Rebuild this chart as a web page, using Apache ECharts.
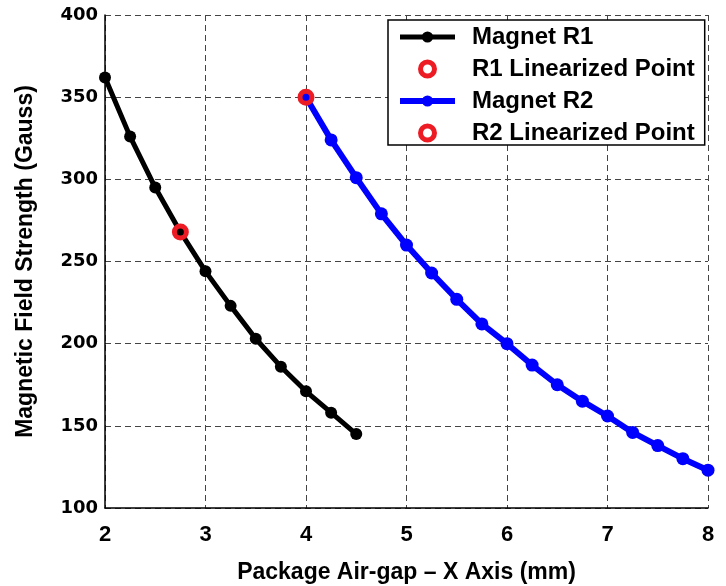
<!DOCTYPE html>
<html><head><meta charset="utf-8">
<script src="https://cdn.jsdelivr.net/npm/echarts@6/dist/echarts.min.js"></script>
<style>html,body{margin:0;padding:0;background:#fff}#c{width:726px;height:586px}</style>
</head><body><div id="c"></div>
<script>
const r1X = [2, 2.25, 2.5, 2.75, 3, 3.25, 3.5, 3.75, 4, 4.25, 4.5];
const r1Y = [362, 326, 295, 268, 244, 223, 203, 186, 171, 158, 145];
const r2X = [4, 4.25, 4.5, 4.75, 5, 5.25, 5.5, 5.75, 6, 6.25, 6.5, 6.75, 7, 7.25, 7.5, 7.75, 8];
const r2Y = [350, 324, 301, 279, 260, 243, 227, 212, 200, 187, 175, 165, 156, 146, 138, 130, 123];
const r1Lin = [2.75, 268];
const r2Lin = [4, 350];
const xTicks = [2, 3, 4, 5, 6, 7, 8];
const yTicks = [100, 150, 200, 250, 300, 350, 400];

const font = 'Liberation Sans, Arial, sans-serif';
const red = '#ed1c24';
const chart = echarts.init(document.getElementById('c'));
const pair = (xs, ys) => xs.map((x, i) => [x, ys[i]]);
const splitLine = {show: true, lineStyle: {color: '#444', type: [6, 4], width: 1}};
const nameStyle = {color: '#000', fontFamily: font, fontWeight: 'bold', fontSize: 23};
chart.setOption({
  animation: false,
  grid: {left: 105, right: 18, top: 15, bottom: 78, show: false, outerBoundsMode: 'none', containLabel: false},
  xAxis: {
    type: 'value', min: xTicks[0], max: xTicks[xTicks.length - 1], interval: 1,
    name: 'Package Air-gap – X Axis (mm)', nameLocation: 'middle', nameGap: 53,
    nameTextStyle: nameStyle,
    axisLine: {show: true, onZero: false, lineStyle: {color: '#000', width: 1.5}},
    axisTick: {show: false},
    splitLine: splitLine,
    axisLabel: {color: '#000', fontFamily: font, fontWeight: 'bold', fontSize: 22, margin: 16}
  },
  yAxis: {
    type: 'value', min: yTicks[0], max: yTicks[yTicks.length - 1], interval: 50,
    name: 'Magnetic Field Strength (Gauss)', nameLocation: 'middle', nameGap: 68,
    nameTextStyle: nameStyle,
    axisLine: {show: true, onZero: false, lineStyle: {color: '#000', width: 1.5}},
    axisTick: {show: false},
    splitLine: splitLine,
    axisLabel: {color: '#000', fontFamily: 'DejaVu Sans, sans-serif', fontWeight: 'bold', fontSize: 18, margin: 7}
  },
  legend: {
    orient: 'vertical', left: 388, top: 20,
    backgroundColor: '#fff', borderColor: '#000', borderWidth: 1.5,
    padding: [5, 10, 0, 9], itemGap: 8, itemWidth: 55, itemHeight: 14,
    lineStyle: {width: 'inherit'},
    textStyle: {color: '#000', fontFamily: font, fontWeight: 'bold', fontSize: 24, lineHeight: 23, padding: [0, 0, 0, 12]},
    data: [
      {name: 'Magnet R1'},
      {name: 'R1 Linearized Point', itemStyle: {borderWidth: 5}},
      {name: 'Magnet R2'},
      {name: 'R2 Linearized Point', itemStyle: {borderWidth: 5}}
    ]
  },
  series: [
    {name: 'Magnet R1', type: 'line', data: pair(r1X, r1Y), symbol: 'circle', symbolSize: 12,
     itemStyle: {color: '#000'}, lineStyle: {color: '#000', width: 5}, z: 2},
    {name: 'Magnet R2', type: 'line', data: pair(r2X, r2Y), symbol: 'circle', symbolSize: 13,
     itemStyle: {color: '#0000ff'}, lineStyle: {color: '#0000ff', width: 6}, z: 2},
    {name: 'R1 Linearized Point', type: 'scatter', data: [r1Lin], symbol: 'circle', symbolSize: 12,
     itemStyle: {color: 'rgba(0,0,0,0)', borderColor: red, borderWidth: 5, opacity: 1}, z: 5},
    {name: 'R2 Linearized Point', type: 'scatter', data: [r2Lin], symbol: 'circle', symbolSize: 12,
     itemStyle: {color: 'rgba(0,0,0,0)', borderColor: red, borderWidth: 5, opacity: 1}, z: 5}
  ]
});
</script></body></html>
